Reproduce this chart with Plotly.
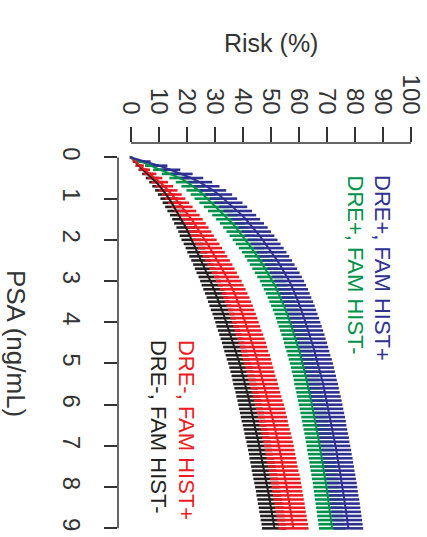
import plotly.graph_objects as go

psa = [0.0, 0.1, 0.2, 0.3, 0.4, 0.5, 0.6, 0.7, 0.8, 0.9,
       1.0, 1.1, 1.2, 1.3, 1.4, 1.5, 1.6, 1.7, 1.8, 1.9,
       2.0, 2.1, 2.2, 2.3, 2.4, 2.5, 2.6, 2.7, 2.8, 2.9,
       3.0, 3.1, 3.2, 3.3, 3.4, 3.5, 3.6, 3.7, 3.8, 3.9,
       4.0, 4.1, 4.2, 4.3, 4.4, 4.5, 4.6, 4.7, 4.8, 4.9,
       5.0, 5.1, 5.2, 5.3, 5.4, 5.5, 5.6, 5.7, 5.8, 5.9,
       6.0, 6.1, 6.2, 6.3, 6.4, 6.5, 6.6, 6.7, 6.8, 6.9,
       7.0, 7.1, 7.2, 7.3, 7.4, 7.5, 7.6, 7.7, 7.8, 7.9,
       8.0, 8.1, 8.2, 8.3, 8.4, 8.5, 8.6, 8.7, 8.8, 8.9,
       9.0]

risk_dre_pos_fam_pos = [
    0.0, 5.0, 10.0, 14.0, 18.0, 21.5, 24.5, 27.0, 29.3, 31.3,
    33.0, 34.8, 36.5, 38.1, 39.6, 41.0, 42.3, 43.6, 44.8, 45.9,
    47.0, 48.1, 49.2, 50.2, 51.2, 52.2, 53.1, 54.0, 54.9, 55.7,
    56.5, 57.2, 57.9, 58.5, 59.1, 59.7, 60.3, 60.8, 61.3, 61.8,
    62.3, 62.8, 63.3, 63.8, 64.2, 64.7, 65.1, 65.5, 65.9, 66.4,
    66.8, 67.2, 67.5, 67.9, 68.2, 68.6, 68.9, 69.2, 69.6, 69.9,
    70.2, 70.5, 70.8, 71.1, 71.4, 71.6, 71.9, 72.2, 72.5, 72.7,
    73.0, 73.3, 73.5, 73.8, 74.0, 74.3, 74.5, 74.8, 75.0, 75.3,
    75.5, 75.7, 75.9, 76.2, 76.4, 76.6, 76.8, 77.0, 77.2, 77.4,
    77.6]
err_dre_pos_fam_pos = [
    0.5, 2.0, 3.0, 3.6, 4.0, 4.3, 4.5, 4.6, 4.7, 4.8,
    4.9, 5.0, 5.0, 5.1, 5.1, 5.1, 5.2, 5.2, 5.2, 5.3,
    5.3, 5.3, 5.3, 5.3, 5.3, 5.3, 5.3, 5.3, 5.3, 5.3,
    5.3, 5.3, 5.3, 5.3, 5.3, 5.3, 5.3, 5.3, 5.3, 5.3,
    5.3, 5.3, 5.3, 5.3, 5.3, 5.3, 5.3, 5.3, 5.3, 5.3,
    5.3, 5.3, 5.3, 5.3, 5.3, 5.3, 5.3, 5.3, 5.3, 5.3,
    5.3, 5.3, 5.3, 5.3, 5.3, 5.3, 5.3, 5.3, 5.3, 5.3,
    5.3, 5.3, 5.3, 5.3, 5.3, 5.3, 5.3, 5.3, 5.3, 5.3,
    5.3, 5.3, 5.3, 5.3, 5.3, 5.3, 5.3, 5.3, 5.3, 5.3,
    5.3]

risk_dre_pos_fam_neg = [
    0.0, 3.5, 7.5, 11.0, 14.5, 17.5, 20.0, 22.2, 24.1, 25.7,
    27.2, 28.9, 30.5, 32.0, 33.5, 34.9, 36.2, 37.4, 38.6, 39.7,
    40.8, 41.9, 43.0, 44.1, 45.1, 46.1, 47.0, 47.9, 48.8, 49.7,
    50.6, 51.3, 52.0, 52.7, 53.4, 54.0, 54.6, 55.2, 55.8, 56.3,
    56.8, 57.3, 57.8, 58.3, 58.8, 59.2, 59.6, 60.1, 60.5, 60.9,
    61.3, 61.7, 62.0, 62.4, 62.7, 63.0, 63.4, 63.7, 64.0, 64.3,
    64.6, 64.9, 65.2, 65.5, 65.8, 66.0, 66.3, 66.6, 66.9, 67.1,
    67.4, 67.6, 67.9, 68.1, 68.4, 68.6, 68.8, 69.1, 69.3, 69.6,
    69.8, 70.0, 70.2, 70.4, 70.6, 70.8, 71.0, 71.2, 71.4, 71.6,
    71.8]
err_dre_pos_fam_neg = [
    0.4, 1.6, 2.5, 3.1, 3.5, 3.8, 4.0, 4.2, 4.3, 4.4,
    4.5, 4.5, 4.5, 4.5, 4.5, 4.5, 4.5, 4.5, 4.5, 4.5,
    4.5, 4.5, 4.5, 4.5, 4.5, 4.6, 4.6, 4.6, 4.6, 4.6,
    4.6, 4.6, 4.6, 4.6, 4.6, 4.6, 4.6, 4.6, 4.6, 4.6,
    4.6, 4.6, 4.6, 4.6, 4.6, 4.6, 4.6, 4.6, 4.6, 4.6,
    4.6, 4.6, 4.6, 4.6, 4.6, 4.7, 4.7, 4.7, 4.7, 4.7,
    4.7, 4.7, 4.7, 4.7, 4.7, 4.7, 4.7, 4.7, 4.7, 4.7,
    4.7, 4.7, 4.7, 4.7, 4.7, 4.7, 4.7, 4.7, 4.7, 4.7,
    4.7, 4.7, 4.7, 4.7, 4.7, 4.7, 4.7, 4.7, 4.7, 4.7,
    4.7]

risk_dre_neg_fam_pos = [
    0.0, 1.5, 3.2, 4.9, 6.8, 8.6, 10.3, 11.9, 13.3, 14.6,
    15.8, 17.0, 18.2, 19.4, 20.5, 21.6, 22.6, 23.6, 24.5, 25.4,
    26.3, 27.3, 28.2, 29.1, 30.0, 30.9, 31.7, 32.5, 33.3, 34.1,
    34.9, 35.6, 36.3, 37.0, 37.6, 38.2, 38.8, 39.3, 39.8, 40.3,
    40.8, 41.3, 41.8, 42.3, 42.8, 43.3, 43.7, 44.1, 44.6, 45.0,
    45.4, 45.8, 46.2, 46.6, 47.0, 47.4, 47.8, 48.2, 48.6, 49.0,
    49.4, 49.8, 50.1, 50.5, 50.8, 51.1, 51.5, 51.8, 52.1, 52.5,
    52.8, 53.1, 53.4, 53.7, 53.9, 54.2, 54.5, 54.8, 55.1, 55.3,
    55.6, 55.8, 56.1, 56.3, 56.6, 56.8, 57.0, 57.3, 57.5, 57.8,
    58.0]
err_dre_neg_fam_pos = [
    0.2, 0.8, 1.4, 1.9, 2.3, 2.6, 2.9, 3.1, 3.3, 3.5,
    3.6, 3.7, 3.8, 3.9, 4.0, 4.0, 4.1, 4.1, 4.2, 4.2,
    4.3, 4.3, 4.3, 4.4, 4.4, 4.4, 4.5, 4.5, 4.5, 4.5,
    4.6, 4.6, 4.6, 4.6, 4.7, 4.7, 4.7, 4.7, 4.8, 4.8,
    4.8, 4.8, 4.8, 4.9, 4.9, 4.9, 4.9, 4.9, 5.0, 5.0,
    5.0, 5.0, 5.0, 5.0, 5.1, 5.1, 5.1, 5.1, 5.1, 5.1,
    5.2, 5.2, 5.2, 5.2, 5.2, 5.2, 5.2, 5.3, 5.3, 5.3,
    5.3, 5.3, 5.3, 5.3, 5.3, 5.3, 5.3, 5.4, 5.4, 5.4,
    5.4, 5.4, 5.4, 5.4, 5.4, 5.4, 5.4, 5.4, 5.4, 5.4,
    5.4]

risk_dre_neg_fam_neg = [
    0.0, 1.3, 2.8, 4.3, 6.0, 7.6, 9.0, 10.3, 11.5, 12.6,
    13.6, 14.5, 15.4, 16.3, 17.2, 18.0, 18.8, 19.6, 20.3, 20.9,
    21.5, 22.3, 23.0, 23.7, 24.4, 25.1, 25.8, 26.5, 27.1, 27.8,
    28.4, 29.0, 29.6, 30.2, 30.8, 31.3, 31.9, 32.4, 33.0, 33.5,
    34.0, 34.5, 35.0, 35.5, 36.0, 36.5, 36.9, 37.4, 37.9, 38.3,
    38.8, 39.2, 39.6, 40.0, 40.4, 40.7, 41.1, 41.5, 41.8, 42.2,
    42.5, 42.8, 43.2, 43.5, 43.8, 44.2, 44.5, 44.8, 45.1, 45.5,
    45.8, 46.1, 46.4, 46.7, 47.0, 47.3, 47.5, 47.8, 48.1, 48.4,
    48.7, 49.0, 49.2, 49.5, 49.7, 50.0, 50.2, 50.5, 50.7, 51.0,
    51.2]
err_dre_neg_fam_neg = [
    0.2, 0.7, 1.2, 1.6, 2.0, 2.3, 2.5, 2.7, 2.9, 3.0,
    3.1, 3.2, 3.2, 3.3, 3.3, 3.3, 3.4, 3.4, 3.4, 3.5,
    3.5, 3.5, 3.5, 3.6, 3.6, 3.6, 3.6, 3.7, 3.7, 3.7,
    3.7, 3.8, 3.8, 3.8, 3.8, 3.8, 3.9, 3.9, 3.9, 3.9,
    3.9, 4.0, 4.0, 4.0, 4.0, 4.0, 4.0, 4.1, 4.1, 4.1,
    4.1, 4.1, 4.1, 4.1, 4.2, 4.2, 4.2, 4.2, 4.2, 4.2,
    4.2, 4.2, 4.3, 4.3, 4.3, 4.3, 4.3, 4.3, 4.3, 4.3,
    4.3, 4.3, 4.3, 4.4, 4.4, 4.4, 4.4, 4.4, 4.4, 4.4,
    4.4, 4.4, 4.4, 4.4, 4.4, 4.4, 4.4, 4.4, 4.4, 4.4,
    4.4]

series_names = ["DRE-, FAM HIST-", "DRE-, FAM HIST+", "DRE+, FAM HIST-", "DRE+, FAM HIST+"]
series_risk = [risk_dre_neg_fam_neg, risk_dre_neg_fam_pos, risk_dre_pos_fam_neg, risk_dre_pos_fam_pos]
series_err = [err_dre_neg_fam_neg, err_dre_neg_fam_pos, err_dre_pos_fam_neg, err_dre_pos_fam_pos]
series_colors = ["#231f20", "#ed1c24", "#00924a", "#2e3192"]

risk_ticks = [0, 10, 20, 30, 40, 50, 60, 70, 80, 90, 100]
psa_ticks = [0, 1, 2, 3, 4, 5, 6, 7, 8, 9]

# legend label placement (risk, psa of label top)
label_pos = [(9.8, 4.39), (19.8, 4.39), (80.0, 0.38), (90.0, 0.38)]

FONT = "Liberation Sans, Arial, sans-serif"
AXC = "#333333"

fig = go.Figure()

for name, r, e, c in zip(series_names, series_risk, series_err, series_colors):
    fig.add_trace(go.Scatter(
        x=r, y=psa, mode="markers", marker=dict(size=0.1, color=c, opacity=0),
        error_x=dict(type="data", array=e, symmetric=True, color=c, thickness=2.6, width=0),
        showlegend=False, hoverinfo="skip"))

for name, r, c in zip(series_names, series_risk, series_colors):
    fig.add_trace(go.Scatter(x=r, y=psa, mode="lines", line=dict(color=c, width=2),
                             name=name, showlegend=False))

for name, (lx, ly), c in zip(series_names, label_pos, series_colors):
    fig.add_annotation(x=lx, y=ly, xref="x", yref="y", text=name, showarrow=False,
                       textangle=90, xanchor="center", yanchor="top",
                       font=dict(family=FONT, size=22, color=c))

# axis titles
fig.add_annotation(x=50, y=(537 - 43) / 394, xref="x", yref="paper", text="Risk (%)",
                   showarrow=False, xanchor="center", yanchor="middle",
                   font=dict(family=FONT, size=25, color=AXC))
fig.add_annotation(x=(16 - 118) / 304, y=4.5, xref="paper", yref="y", text="PSA (ng/mL)",
                   showarrow=False, textangle=90, xanchor="center", yanchor="middle",
                   font=dict(family=FONT, size=26, color=AXC))

# R-style axis lines spanning first to last tick
fig.add_shape(type="line", xref="x", yref="paper", x0=risk_ticks[0], x1=risk_ticks[-1], y0=1, y1=1,
              line=dict(color=AXC, width=1.5))
fig.add_shape(type="line", xref="paper", yref="y", x0=0, x1=0, y0=psa_ticks[0], y1=psa_ticks[-1],
              line=dict(color=AXC, width=1.5))

fig.update_layout(
    width=427, height=537,
    margin=dict(l=118, r=5, t=143, b=0, pad=0),
    paper_bgcolor="white", plot_bgcolor="white",
    xaxis=dict(side="top", range=[-4.64, 103.9], tickvals=risk_ticks, ticks="outside",
               ticklen=15, tickwidth=1.5, tickcolor=AXC, tickangle=90, ticklabelstandoff=4,
               showline=False, zeroline=False, showgrid=False,
               tickfont=dict(family=FONT, size=24, color=AXC)),
    yaxis=dict(range=[9.21, -0.35], tickvals=psa_ticks, ticks="outside",
               ticklen=13, tickwidth=1.5, tickcolor=AXC, tickangle=90, ticklabelstandoff=12,
               showline=False, zeroline=False, showgrid=False,
               tickfont=dict(family=FONT, size=24, color=AXC)),
)

fig.write_html("out.html")
